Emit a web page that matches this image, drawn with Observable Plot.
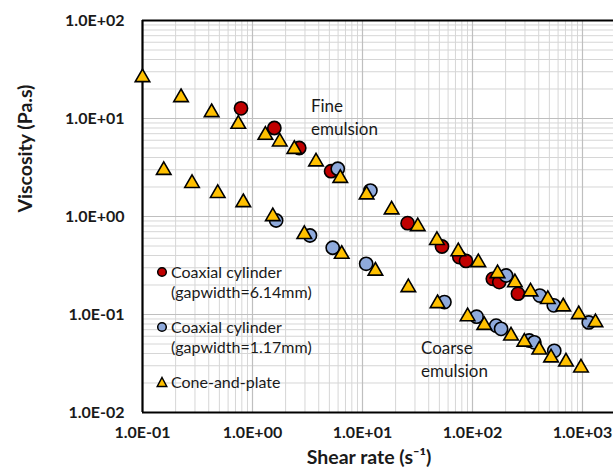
<!DOCTYPE html>
<html>
<head>
<meta charset="utf-8">
<script src="https://cdn.jsdelivr.net/npm/d3@7"></script>
<script src="https://cdn.jsdelivr.net/npm/@observablehq/plot@0.6"></script>
<style>
  html, body { margin: 0; padding: 0; background: #fff; }
  #wrap { position: relative; width: 613px; height: 472px; font-family: Lato, "Open Sans", sans-serif; }
  #legend { position: absolute; left: 156px; top: 262px; font-size: 16px; color: #1a1a1a; line-height: 20px; }
  #legend .row { display: flex; align-items: flex-start; margin-bottom: 15px; }
  #legend svg { margin-right: 3px; margin-top: 4px; flex: none; }
</style>
</head>
<body>
<div id="wrap">
  <div id="chart"></div>
  <div id="legend"></div>
</div>
<script>
// Series: [shear rate (1/s), viscosity (Pa.s)]
const coaxial614 = [
  [0.786, 12.7], [1.58, 8.0], [2.66, 5.0], [5.18, 2.9], [25.7, 0.855],
  [52.8, 0.494], [75.9, 0.385], [87.3, 0.352], [153, 0.231], [175, 0.214], [259, 0.163]
];
const coaxial117 = [
  // fine emulsion
  [5.96, 3.07], [11.8, 1.84], [202, 0.25], [409, 0.156], [548, 0.124], [1141, 0.083],
  // coarse emulsion
  [1.64, 0.91], [3.33, 0.64], [5.36, 0.48], [10.8, 0.329], [55.6, 0.134], [109, 0.095],
  [164, 0.077], [182, 0.0714], [328, 0.0543], [365, 0.052], [554, 0.0426]
];
const coneAndPlate = [
  // fine emulsion
  [0.1, 27.5], [0.224, 17.2], [0.425, 12.1], [0.743, 9.2], [1.31, 7.1], [1.77, 6.07],
  [2.4, 5.1], [3.78, 3.8], [6.28, 2.58], [10.9, 1.75], [18.4, 1.23], [31.8, 0.83],
  [47.5, 0.60], [74.3, 0.46], [113, 0.356], [169, 0.275], [243, 0.222], [337, 0.179],
  [484, 0.150], [668, 0.126], [925, 0.105], [1312, 0.087],
  // coarse emulsion
  [0.156, 3.11], [0.282, 2.29], [0.483, 1.81], [0.825, 1.46], [1.53, 1.05], [2.96, 0.69],
  [6.47, 0.433], [13.1, 0.292], [26.1, 0.198], [48.1, 0.136], [90.3, 0.1], [128, 0.0815],
  [224, 0.0635], [296, 0.055], [405, 0.0457], [518, 0.038], [708, 0.0345], [969, 0.030]
];
const seriesNames = ["Coaxial cylinder\n(gapwidth=6.14mm)", "Coaxial cylinder\n(gapwidth=1.17mm)", "Cone-and-plate"];
const seriesColors = ["#C00000", "#8FAADC", "#FFC000"];
const xTicks = [0.1, 1, 10, 100, 1000];
const yTicks = [0.01, 0.1, 1, 10, 100];
const annotations = [
  {x: 3.4, y: 10.5, text: "Fine\nemulsion"},
  {x: 34, y: 0.0356, text: "Coarse\nemulsion"}
];

const sci = v => {
  const e = Math.round(Math.log10(v));
  return "1.0E" + (e < 0 ? "-" : "+") + String(Math.abs(e)).padStart(2, "0");
};
const minors = (lo, hi) => {
  const out = [];
  for (let d = lo; d < hi; d *= 10) for (let k = 2; k <= 9; k++) out.push(d * k);
  return out;
};
const xMinor = minors(0.1, 1000);
const yMinor = minors(0.01, 100);
const toObj = a => a.map(([x, y]) => ({x, y}));

const font = "Lato, 'Open Sans', sans-serif";
const chart = Plot.plot({
  width: 613,
  height: 472,
  marginLeft: 142,
  marginRight: 0,
  marginTop: 20,
  marginBottom: 60,
  style: {fontFamily: font, background: "#fff", overflow: "visible"},
  x: {type: "log", domain: [0.1, 1914], axis: null},
  y: {type: "log", domain: [0.01, 100], axis: null},
  marks: [
    Plot.ruleX(xMinor, {stroke: "#d6d6d6", strokeWidth: 1}),
    Plot.ruleY(yMinor, {stroke: "#d6d6d6", strokeWidth: 1}),
    Plot.ruleX(xTicks, {stroke: "#bfbfbf", strokeWidth: 1.2}),
    Plot.ruleY(yTicks, {stroke: "#bfbfbf", strokeWidth: 1.2}),
    Plot.ruleY([0.01, 100], {stroke: "#000", strokeWidth: 2.2}),
    Plot.ruleX([0.1], {stroke: "#000", strokeWidth: 2.2}),
    Plot.text(xTicks, {x: d => d, text: sci, frameAnchor: "bottom", dy: 25,
      fontSize: 16, fontWeight: "bold", fill: "#1a1a1a"}),
    Plot.text(yTicks, {y: d => d, text: sci, frameAnchor: "left", dx: -18, textAnchor: "end",
      fontSize: 16, fontWeight: "bold", fill: "#1a1a1a"}),
    Plot.text(["Shear rate (s⁻¹)"], {frameAnchor: "bottom", dx: -9, dy: 51, fontSize: 19.5, fontWeight: "bold", fill: "#1a1a1a"}),
    Plot.text(["Viscosity (Pa.s)"], {frameAnchor: "left", dx: -117, dy: -4, rotate: -90, fontSize: 19.5, fontWeight: "bold", fill: "#1a1a1a"}),
    Plot.text(annotations, {x: "x", y: "y", text: "text", textAnchor: "start", lineHeight: 1.3, fontSize: 17, fill: "#1a1a1a"}),
    Plot.dot(toObj(coaxial614), {x: "x", y: "y", symbol: "circle", r: 6.6, fill: seriesColors[0], stroke: "#000", strokeWidth: 1.6}),
    Plot.dot(toObj(coaxial117), {x: "x", y: "y", symbol: "circle", r: 6.6, fill: seriesColors[1], stroke: "#000", strokeWidth: 1.6}),
    Plot.dot(toObj(coneAndPlate), {x: "x", y: "y", symbol: "triangle", r: 5.4, dy: 2, fill: seriesColors[2], stroke: "#000", strokeWidth: 1.6})
  ]
});
document.getElementById("chart").appendChild(chart);

// legend
const legend = document.getElementById("legend");
seriesNames.forEach((name, i) => {
  const row = document.createElement("div");
  row.className = "row";
  const sym = i < 2
    ? `<svg width="12" height="12"><circle cx="6" cy="6" r="4.3" fill="${seriesColors[i]}" stroke="#000" stroke-width="1.5"/></svg>`
    : `<svg width="12" height="12"><path d="M6,1.5 L10.8,10.5 L1.2,10.5 Z" fill="${seriesColors[i]}" stroke="#000" stroke-width="1.5"/></svg>`;
  row.innerHTML = sym + `<span>${name.replace("\n", "<br>")}</span>`;
  legend.appendChild(row);
});
</script>
</body>
</html>
